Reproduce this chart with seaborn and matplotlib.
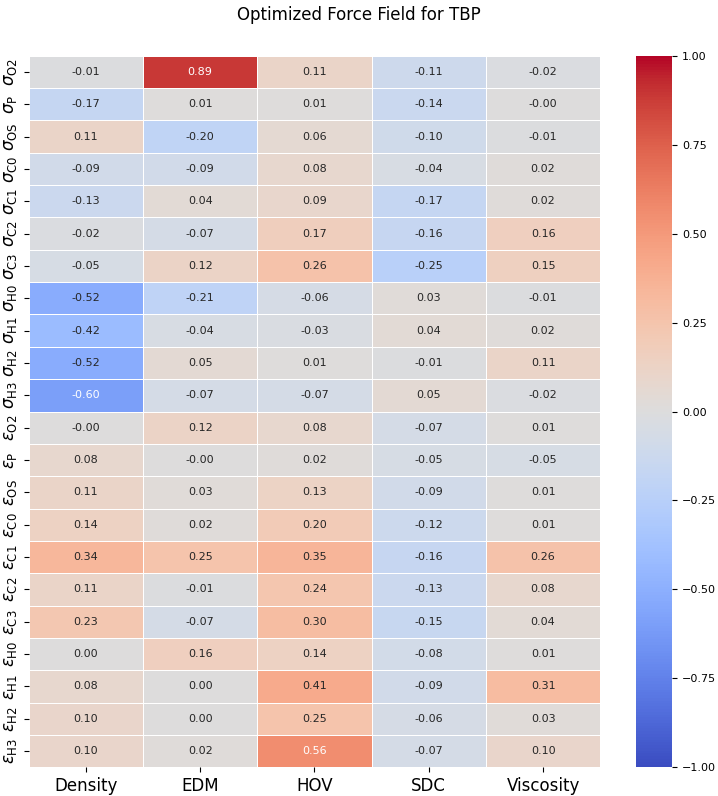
import numpy as np
import pandas as pd
import matplotlib
matplotlib.use('Agg')
import matplotlib.pyplot as plt
import seaborn as sns

properties = ['Density', 'EDM', 'HOV', 'SDC', 'Viscosity']
atoms = ['O2', 'P', 'OS', 'C0', 'C1', 'C2', 'C3', 'H0', 'H1', 'H2', 'H3']
params = ([r'$\sigma_{\mathrm{%s}}$' % a for a in atoms]
          + [r'$\varepsilon_{\mathrm{%s}}$' % a for a in atoms])

density = [-0.01, -0.17, 0.11, -0.09, -0.13, -0.02, -0.05, -0.52, -0.42, -0.52, -0.60,
           -0.00, 0.08, 0.11, 0.14, 0.34, 0.11, 0.23, 0.00, 0.08, 0.10, 0.10]
edm = [0.89, 0.01, -0.20, -0.09, 0.04, -0.07, 0.12, -0.21, -0.04, 0.05, -0.07,
       0.12, -0.00, 0.03, 0.02, 0.25, -0.01, -0.07, 0.16, 0.00, 0.00, 0.02]
hov = [0.11, 0.01, 0.06, 0.08, 0.09, 0.17, 0.26, -0.06, -0.03, 0.01, -0.07,
       0.08, 0.02, 0.13, 0.20, 0.35, 0.24, 0.30, 0.14, 0.41, 0.25, 0.56]
sdc = [-0.11, -0.14, -0.10, -0.04, -0.17, -0.16, -0.25, 0.03, 0.04, -0.01, 0.05,
       -0.07, -0.05, -0.09, -0.12, -0.16, -0.13, -0.15, -0.08, -0.09, -0.06, -0.07]
viscosity = [-0.02, -0.00, -0.01, 0.02, 0.02, 0.16, 0.15, -0.01, 0.02, 0.11, -0.02,
             0.01, -0.05, 0.01, 0.01, 0.26, 0.08, 0.04, 0.01, 0.31, 0.03, 0.10]

corr = pd.DataFrame({'Density': density, 'EDM': edm, 'HOV': hov,
                     'SDC': sdc, 'Viscosity': viscosity}, index=params)

fig = plt.figure(figsize=(7.18, 7.96), dpi=100)
ax = fig.add_axes([0.040, 0.036, 0.796, 0.894])
cax = fig.add_axes([0.886, 0.036, 0.050, 0.894])

sns.heatmap(corr, ax=ax, cbar_ax=cax, cmap='coolwarm', vmin=-1, vmax=1,
            annot=True, fmt='.2f', annot_kws={'size': 8},
            linewidths=0.5, linecolor='white')

fig.suptitle('Optimized Force Field for TBP', fontsize=12, y=0.981, va='center')
ax.set_xticklabels(properties, fontsize=12, rotation=0)
ax.set_yticklabels(params, fontsize=12, rotation=90, va='center')
cax.tick_params(labelsize=8)

fig.savefig('out.png', dpi=100)
